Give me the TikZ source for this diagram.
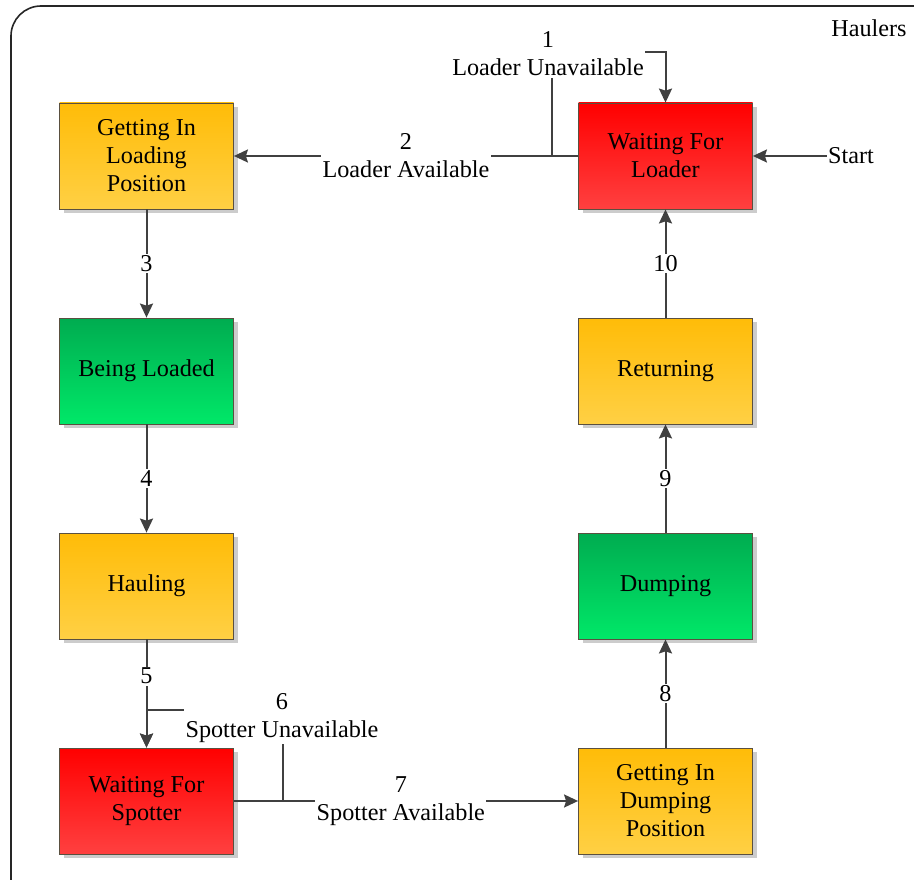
\documentclass[tikz,border=0pt]{standalone}
\usepackage{fontspec}
\setmainfont{Liberation Serif}
\usepackage{xcolor}
\usepackage{tikz}
\usetikzlibrary{arrows.meta,shadows}
\definecolor{ink}{HTML}{404040}
\definecolor{edge}{HTML}{5A5040}
\definecolor{ambtop}{HTML}{FFBC08}
\definecolor{ambbot}{HTML}{FFD044}
\definecolor{redtop}{HTML}{FF0000}
\definecolor{redbot}{HTML}{FF4040}
\definecolor{grntop}{HTML}{00AC50}
\definecolor{grnbot}{HTML}{00E868}
\tikzset{
  state/.style={draw=edge, line width=0.8pt, minimum width=174pt, minimum height=106pt,
    align=center, font=\fontsize{24.2}{28}\selectfont,
    drop shadow={shadow xshift=4pt, shadow yshift=-4pt, fill=black!20, opacity=1}},
  busy/.style={state, top color=ambtop, bottom color=ambbot},
  wait/.style={state, top color=redtop, bottom color=redbot},
  work/.style={state, top color=grntop, bottom color=grnbot},
  flow/.style={draw=ink, line width=2pt, -{Stealth[length=14pt,width=13pt,inset=2pt]}},
  lab/.style={fill=white, align=center, inner sep=1.5pt, font=\fontsize{24.2}{28}\selectfont},
  txt/.style={inner sep=1pt, font=\fontsize{24.2}{28}\selectfont},
}

\begin{document}
\begin{tikzpicture}[x=1pt, y=-1pt]
  \useasboundingbox (0,0) rectangle (914,880);
  \clip (0,0) rectangle (914,880);
  \draw[black!85, line width=1.6pt, rounded corners=30pt] (11,6) rectangle (960,930);
  \node[txt] (haulers) at (869,28) {Haulers};

  % states
  \node[busy] (gilp) at (146.5,156) {Getting In\\Loading\\Position};
  \node[work] (load) at (146.5,371) {Being Loaded};
  \node[busy] (haul) at (146.5,586) {Hauling};
  \node[wait] (wfs)  at (146.5,801) {Waiting For\\Spotter};
  \node[wait] (wfl)  at (665.5,156) {Waiting For\\Loader};
  \node[busy] (ret)  at (665.5,371) {Returning};
  \node[work] (dump) at (665.5,586) {Dumping};
  \node[busy] (gidp) at (665.5,801) {Getting In\\Dumping\\Position};

  % transitions
  \coordinate (j1) at (552,156);
  \coordinate (c1) at (552,52);
  \draw[flow] (j1) -- (c1) -| (wfl.north);
  \node[lab] (t1) at (548,54) {1\\Loader Unavailable};
  \draw[flow] (wfl) -- node[lab] {2\\Loader Available} (gilp);
  \draw[flow] (gilp) -- node[lab] {3} (load);
  \draw[flow] (load) -- node[lab] {4} (haul);
  \draw[flow] (haul) -- node[lab, pos=0.34] {5} (wfs);
  \coordinate (j6) at (283,801);
  \coordinate (c6) at (283,710);
  \draw[flow] (j6) -- (c6) -| (wfs.north);
  \node[lab] (t6) at (282,718) {6\\Spotter Unavailable};
  \draw[flow] (wfs) -- node[lab, pos=0.485] {7\\Spotter Available} (gidp);
  \draw[flow] (gidp) -- node[lab] {8} (dump);
  \draw[flow] (dump) -- node[lab] {9} (ret);
  \draw[flow] (ret) -- node[lab] {10} (wfl);

  \node[txt] (start) at (851,156) {Start};
  \draw[flow] (start) -- (wfl);
\end{tikzpicture}
\end{document}
